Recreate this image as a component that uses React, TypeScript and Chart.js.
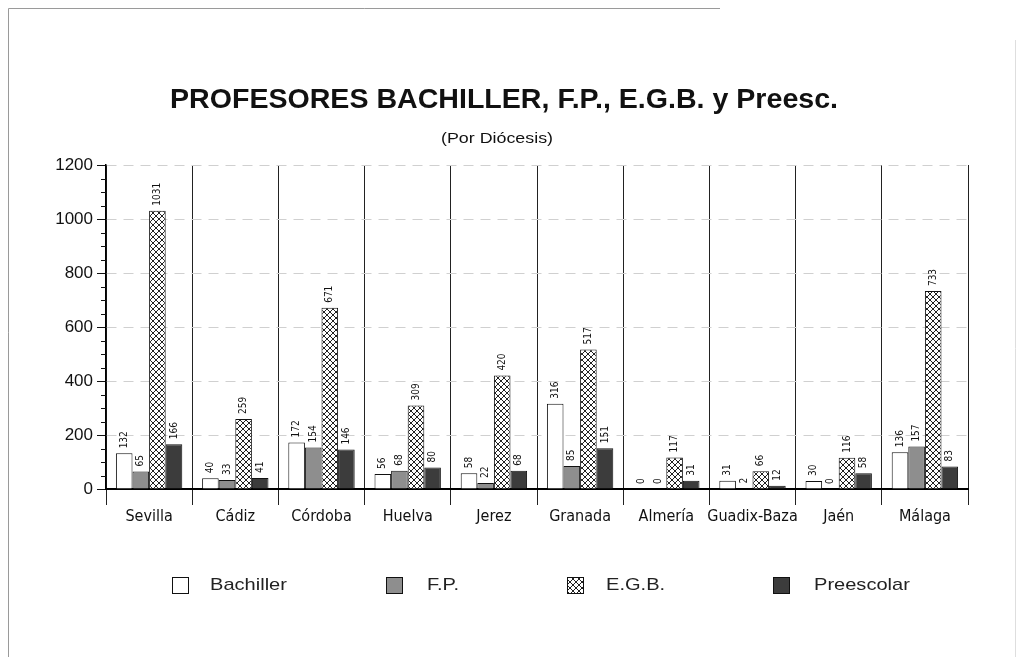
import React, { useEffect, useRef } from "react";
import { Chart, registerables } from "chart.js";

Chart.register(...registerables);

const categories = ["Sevilla", "Cádiz", "Córdoba", "Huelva", "Jerez", "Granada", "Almería", "Guadix-Baza", "Jaén", "Málaga"];
const bachiller = [132, 40, 172, 56, 58, 316, 0, 31, 30, 136];
const fp = [65, 33, 154, 68, 22, 85, 0, 2, 0, 157];
const egb = [1031, 259, 671, 309, 420, 517, 117, 66, 116, 733];
const preescolar = [166, 41, 146, 80, 68, 151, 31, 12, 58, 83];
const seriesNames = ["Bachiller", "F.P.", "E.G.B.", "Preescolar"];
const yTicks = [0, 200, 400, 600, 800, 1000, 1200];

const TITLE = "PROFESORES BACHILLER, F.P., E.G.B. y Preesc.";
const SUBTITLE = "(Por Diócesis)";

function makeHatch(): CanvasPattern | string {
  const c = document.createElement("canvas");
  c.width = 6;
  c.height = 6;
  const g = c.getContext("2d");
  if (!g) return "#ccc";
  g.fillStyle = "#fff";
  g.fillRect(0, 0, 6, 6);
  g.strokeStyle = "#222";
  g.lineWidth = 1;
  g.beginPath();
  g.moveTo(0, 0);
  g.lineTo(6, 6);
  g.moveTo(6, 0);
  g.lineTo(0, 6);
  g.stroke();
  const p = g.createPattern(c, "repeat");
  return p || "#ccc";
}

function stretchText(ctx: CanvasRenderingContext2D, text: string, x: number, y: number, sx: number, align: "left" | "center") {
  ctx.save();
  ctx.translate(x, y);
  ctx.scale(sx, 1);
  ctx.textAlign = align;
  ctx.fillText(text, 0, 0);
  ctx.restore();
}

export default function App() {
  const ref = useRef<HTMLCanvasElement | null>(null);

  useEffect(() => {
    if (!ref.current) return;
    const hatch = makeHatch();
    const fills: any[] = ["#ffffff", "#8e8e8e", hatch, "#3c3c3c"];

    const decor = {
      id: "decor",
      beforeDraw(chart: any) {
        const ctx = chart.ctx;
        ctx.save();
        ctx.fillStyle = "#fff";
        ctx.fillRect(0, 0, chart.width, chart.height);
        // page frame
        ctx.strokeStyle = "#9a9a9a";
        ctx.lineWidth = 1;
        ctx.beginPath();
        ctx.moveTo(8.5, 657);
        ctx.lineTo(8.5, 8.5);
        ctx.lineTo(720, 8.5);
        ctx.stroke();
        ctx.strokeStyle = "#dedede";
        ctx.beginPath();
        ctx.moveTo(1015.5, 40);
        ctx.lineTo(1015.5, 657);
        ctx.stroke();
        // titles
        ctx.fillStyle = "#111";
        ctx.textBaseline = "middle";
        ctx.font = "bold 28px 'Liberation Sans', Arial, sans-serif";
        const tw = ctx.measureText(TITLE).width;
        stretchText(ctx, TITLE, 504, 100, 668 / tw, "center");
        ctx.font = "15px 'Liberation Sans', Arial, sans-serif";
        const sw = ctx.measureText(SUBTITLE).width;
        stretchText(ctx, SUBTITLE, 497, 139, 112 / sw, "center");
        ctx.restore();
      },
      afterDraw(chart: any) {
        const ctx = chart.ctx;
        const ys = chart.scales.y;
        const area = chart.chartArea;
        ctx.save();
        // minor ticks
        ctx.strokeStyle = "#111";
        ctx.lineWidth = 1;
        for (let v = 50; v < 1200; v += 50) {
          if (v % 200 === 0) continue;
          const y = Math.round(ys.getPixelForValue(v)) + 0.5;
          ctx.beginPath();
          ctx.moveTo(area.left - 5, y);
          ctx.lineTo(area.left, y);
          ctx.stroke();
        }
        // value labels
        ctx.fillStyle = "#111";
        ctx.font = "10px 'Liberation Sans Narrow', 'DejaVu Sans Condensed', sans-serif";
        ctx.textAlign = "left";
        ctx.textBaseline = "middle";
        chart.data.datasets.forEach((ds: any, di: number) => {
          const meta = chart.getDatasetMeta(di);
          meta.data.forEach((el: any, i: number) => {
            ctx.save();
            ctx.translate(el.x, el.y - 5);
            ctx.rotate(-Math.PI / 2);
            ctx.fillText(String(ds.data[i]), 0, 0);
            ctx.restore();
          });
        });
        // legend
        const legendX = [172, 386, 567, 773];
        const textX = [210, 427, 606, 814];
        const ly = 585;
        ctx.font = "17px 'Liberation Sans', Arial, sans-serif";
        ctx.textBaseline = "middle";
        chart.data.datasets.forEach((ds: any, di: number) => {
          ctx.fillStyle = fills[di];
          ctx.fillRect(legendX[di], ly - 8, 16, 16);
          ctx.strokeStyle = "#111";
          ctx.strokeRect(legendX[di] + 0.5, ly - 8 + 0.5, 16, 16);
          ctx.fillStyle = "#222";
          stretchText(ctx, ds.label, textX[di], ly, 1.18, "left");
        });
        ctx.restore();
      },
    };

    const chart = new Chart(ref.current, {
      type: "bar",
      data: {
        labels: categories,
        datasets: [bachiller, fp, egb, preescolar].map((d, i) => ({
          label: seriesNames[i],
          data: d,
          backgroundColor: fills[i],
          borderColor: "#111",
          borderWidth: 1,
          categoryPercentage: 0.77,
          barPercentage: 1.0,
        })),
      },
      options: {
        responsive: false,
        animation: false,
        layout: { padding: { left: 46, right: 49, top: 165, bottom: 128 } },
        plugins: {
          legend: { display: false },
          title: { display: false },
          tooltip: { enabled: false },
        },
        scales: {
          x: {
            offset: true,
            afterFit: (s: any) => {
              s.height = 40;
            },
            grid: {
              offset: true,
              color: "#222",
              lineWidth: 1,
              tickLength: 16,
              drawOnChartArea: true,
            },
            border: { color: "#000", width: 2 },
            ticks: {
              color: "#111",
              padding: 2,
              autoSkip: false,
              maxRotation: 0,
              minRotation: 0,
              font: { family: "'Liberation Sans Narrow', 'DejaVu Sans Condensed', sans-serif", size: 16 },
            },
          },
          y: {
            min: 0,
            max: 1200,
            afterFit: (s: any) => {
              s.width = 60;
            },
            afterBuildTicks: (s: any) => {
              s.ticks = yTicks.map((v) => ({ value: v }));
            },
            grid: {
              color: "#d0d0d0",
              lineWidth: 1,
              tickLength: 9,
              tickColor: "#111",
            } as any,
            border: { color: "#000", width: 1.5, dash: [10, 7] } as any,
            ticks: {
              color: "#111",
              padding: 4,
              callback: (v: any) => String(v),
              font: { family: "'Liberation Sans', Arial, sans-serif", size: 17 },
            },
          },
        },
      },
      plugins: [decor],
    });
    return () => chart.destroy();
  }, []);

  return (
    <div style={{ position: "fixed", left: 0, top: 0, width: 1017, height: 657, background: "#fff" }}>
      <canvas ref={ref} width={1017} height={657} />
    </div>
  );
}
